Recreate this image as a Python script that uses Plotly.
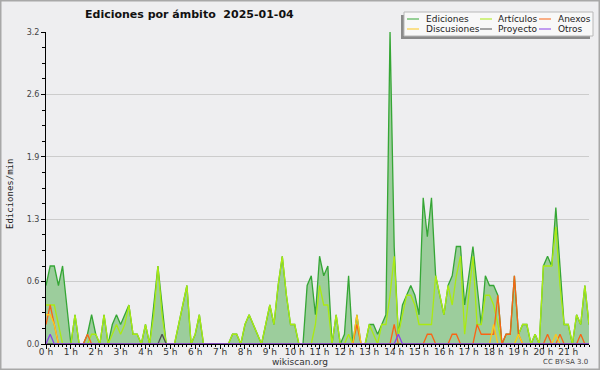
import pandas as pd
import plotly.graph_objects as go

# ---- data (edits per minute, 10-minute buckets, 2025-01-04) ----
START = "2025-01-04 00:00"
hour_labels = [f"{h} h" for h in range(22)]
y_tick_values = [0, 0.64, 1.28, 1.92, 2.56, 3.2]
y_tick_labels = ["0.0", "0.6", "1.3", "1.9", "2.6", "3.2"]

ediciones = [
    0.6, 0.8, 0.8, 0.6, 0.8, 0.4,
    0, 0.3, 0, 0, 0.1, 0.3,
    0.1, 0, 0.3, 0, 0.2, 0.3,
    0.2, 0.3, 0.4, 0.1, 0.1, 0,
    0.2, 0, 0.4, 0.8, 0.4, 0,
    0, 0, 0.2, 0.4, 0.6, 0,
    0.1, 0.3, 0, 0, 0, 0,
    0, 0, 0, 0.1, 0.1, 0,
    0.2, 0.3, 0.2, 0.1, 0, 0.2,
    0.4, 0.2, 0.6, 0.9, 0.5, 0.2,
    0.2, 0, 0, 0.6, 0.7, 0.3,
    0.9, 0.7, 0.8, 0, 0.3, 0,
    0.1, 0.7, 0, 0.3, 0, 0,
    0.2, 0.2, 0.1, 0.2, 0.3, 3.2,
    1.0, 0.1, 0.4, 0.5, 0.6, 0.5,
    0.3, 1.5, 1.1, 1.5, 0.7, 0.5,
    0.3, 0.6, 0.7, 1.0, 1.0, 0.4,
    0.7, 1.0, 0.6, 0.2, 0.7, 0.6,
    0.6, 0.5, 0, 0.1, 0.1, 0.7,
    0.1, 0.2, 0.2, 0, 0.1, 0,
    0.8, 0.9, 0.8, 1.4, 0.8, 0.2,
    0.2, 0, 0.3, 0.2, 0.6, 0.2,
]
articulos = [
    0.4, 0.4, 0.4, 0.2, 0, 0,
    0, 0.3, 0, 0, 0, 0.1,
    0.1, 0, 0.3, 0, 0.1, 0.2,
    0.1, 0.2, 0.4, 0.1, 0.1, 0,
    0.2, 0, 0.3, 0.8, 0.3, 0,
    0, 0, 0.2, 0.4, 0.6, 0,
    0.1, 0.3, 0, 0, 0, 0,
    0, 0, 0, 0.1, 0.1, 0,
    0.2, 0.3, 0.2, 0.1, 0, 0.2,
    0.4, 0.2, 0.6, 0.9, 0.5, 0.2,
    0.2, 0, 0, 0, 0, 0.2,
    0.6, 0.4, 0.4, 0, 0.3, 0,
    0, 0.1, 0, 0, 0, 0,
    0.2, 0.1, 0, 0.2, 0.2, 0.5,
    0.9, 0.1, 0.3, 0.5, 0.5, 0.4,
    0.2, 0.2, 0.2, 0.2, 0.7, 0.5,
    0.3, 0.6, 0.4, 0.7, 0.9, 0.1,
    0.5, 0.9, 0.2, 0.2, 0.5, 0.5,
    0.4, 0.2, 0, 0, 0, 0,
    0.1, 0.2, 0.2, 0, 0.1, 0,
    0.8, 0.8, 0.8, 1.2, 0.6, 0.2,
    0.2, 0, 0.3, 0.2, 0.6, 0.2,
]
anexos = [
    0.2, 0.4, 0.2, 0, 0, 0,
    0, 0, 0, 0, 0.1, 0,
    0, 0, 0, 0, 0, 0,
    0, 0, 0, 0, 0, 0,
    0, 0, 0, 0, 0, 0,
    0, 0, 0, 0, 0, 0,
    0, 0, 0, 0, 0, 0,
    0, 0, 0, 0, 0, 0,
    0, 0, 0, 0, 0, 0,
    0, 0, 0, 0, 0, 0,
    0, 0, 0, 0, 0, 0,
    0, 0, 0, 0, 0, 0,
    0, 0, 0, 0.2, 0, 0,
    0, 0, 0, 0, 0, 0,
    0.2, 0, 0, 0, 0, 0,
    0, 0, 0.1, 0.1, 0, 0,
    0, 0, 0.1, 0.1, 0, 0,
    0, 0, 0.2, 0.1, 0.1, 0.1,
    0.1, 0.5, 0, 0.1, 0.1, 0.7,
    0.1, 0, 0, 0, 0, 0,
    0, 0.1, 0, 0, 0.1, 0,
    0, 0, 0, 0.1, 0, 0,
]
discusiones = [
    0.3, 0.3, 0.2, 0, 0, 0,
    0, 0, 0, 0, 0, 0,
    0, 0, 0, 0, 0, 0,
    0, 0, 0, 0, 0, 0,
    0, 0, 0, 0, 0, 0,
    0, 0, 0, 0, 0, 0,
    0, 0, 0, 0, 0, 0,
    0, 0, 0, 0, 0, 0,
    0, 0, 0, 0, 0, 0,
    0, 0, 0, 0, 0, 0,
    0, 0, 0, 0, 0, 0,
    0, 0, 0, 0, 0, 0,
    0, 0, 0, 0.3, 0, 0,
    0, 0, 0, 0, 0, 0,
    0, 0, 0, 0, 0, 0,
    0, 0, 0, 0, 0, 0,
    0, 0, 0, 0, 0, 0,
    0, 0, 0, 0, 0, 0,
    0.2, 0, 0, 0, 0, 0,
    0.1, 0, 0, 0, 0, 0,
    0, 0, 0, 0.1, 0, 0,
    0, 0, 0, 0, 0, 0,
]
proyecto = [0] * 28 + [0.1] + [0] * 103
otros = [0, 0.1] + [0] * 83 + [0.1] + [0] * 46

times = pd.date_range(START, periods=len(ediciones), freq="10min")
hour_ticks = pd.date_range(START, periods=len(hour_labels), freq="h")

series = [
    ("Ediciones", ediciones, "#35a635"),
    ("Artículos", articulos, "#aaea12"),
    ("Anexos", anexos, "#fa6414"),
    ("Discusiones", discusiones, "#fcc81e"),
    ("Proyecto", proyecto, "#505050"),
    ("Otros", otros, "#8a40e8"),
]

BG = "#eeeef0"
FONT = "DejaVu Sans"
L, R, T, B, W, H = 46, 11, 32, 26, 600, 370
PW, PH = W - L - R, H - T - B


def px(x):
    return (x - L) / PW


def py(y):
    return (H - B - y) / PH


fig = go.Figure()
for i, (name, vals, color) in enumerate(series):
    kw = {}
    if i == 0:
        kw = dict(fill="tozeroy", fillcolor="#9ccd9c")
    fig.add_trace(go.Scatter(x=times, y=vals, name=name, mode="lines",
                             line=dict(color=color, width=1.3), **kw))

shapes = [
    # outer border
    dict(type="rect", xref="paper", yref="paper", x0=px(0.5), x1=px(599.5),
         y0=py(369.5), y1=py(0.5), line=dict(color="#a8a8a8", width=2)),
    # legend shadow and box
    dict(type="rect", xref="paper", yref="paper", x0=px(401), x1=px(590),
         y0=py(39), y1=py(15), fillcolor="#8a8a8a", line=dict(width=0)),
    dict(type="rect", xref="paper", yref="paper", x0=px(404), x1=px(593),
         y0=py(36), y1=py(12), fillcolor="#f8f8f8",
         line=dict(color="#b8b8b8", width=1)),
]
annotations = []
cols = [(407, 424), (480, 496), (539, 556)]
rows = [19, 29]
for k, (name, vals, color) in enumerate(series):
    r, c = divmod(k, 3)
    sx, tx = cols[c]
    yy = rows[r]
    shapes.append(dict(type="line", xref="paper", yref="paper",
                       x0=px(sx), x1=px(sx + 12), y0=py(yy), y1=py(yy),
                       line=dict(color=color, width=1)))
    annotations.append(dict(text=name, xref="paper", yref="paper",
                            x=px(tx), y=py(yy), xanchor="left", yanchor="middle",
                            showarrow=False,
                            font=dict(family=FONT, size=9, color="#222222")))

annotations += [
    dict(text="Ediciones/min", xref="paper", yref="paper", x=px(10), y=py(194),
         textangle=-90, showarrow=False, xanchor="center", yanchor="middle",
         font=dict(family="DejaVu Sans Mono", size=9, color="#222222")),
    dict(text="wikiscan.org", xref="paper", yref="paper", x=px(300), y=py(362),
         showarrow=False, xanchor="center", yanchor="middle",
         font=dict(family=FONT, size=9, color="#333333")),
    dict(text="CC BY-SA 3.0", xref="paper", yref="paper", x=px(590), y=py(362),
         showarrow=False, xanchor="right", yanchor="middle",
         font=dict(family=FONT, size=7, color="#444444")),
]

fig.update_layout(
    width=W, height=H,
    margin=dict(l=L, r=R, t=T, b=B, pad=0, autoexpand=False),
    paper_bgcolor=BG, plot_bgcolor=BG,
    showlegend=False,
    title=dict(text="Ediciones por ámbito  2025-01-04", x=85 / W,
               xanchor="left", y=1 - 14 / H, yanchor="middle",
               font=dict(family=FONT, size=11, color="#111111", weight="bold")),
    shapes=shapes, annotations=annotations,
)
fig.update_xaxes(
    range=[times[0], times[-1]], automargin=False,
    tickvals=hour_ticks, ticktext=hour_labels,
    ticks="outside", ticklen=4, tickcolor="black", tickwidth=1,
    ticklabelstandoff=-5,
    showline=True, linecolor="black", linewidth=1,
    showgrid=False, zeroline=False,
    tickfont=dict(family=FONT, size=9, color="#333333"),
    minor=dict(dtick=600000, ticks="outside", ticklen=2, tickcolor="black", showgrid=False),
)
fig.update_yaxes(
    range=[0, 3.2], automargin=False,
    tickvals=y_tick_values, ticktext=y_tick_labels,
    ticks="outside", ticklen=4, tickcolor="black", tickwidth=1,
    showline=True, linecolor="black", linewidth=1,
    showgrid=True, gridcolor="#cccccc", gridwidth=1, zeroline=False,
    tickfont=dict(family=FONT, size=8, color="#444444"),
    minor=dict(tick0=0, dtick=0.16, ticks="outside", ticklen=3, tickcolor="black", showgrid=False),
)

fig.write_html("out.html", config={"displayModeBar": False},
               post_script="document.body.style.margin='0';document.body.style.overflow='hidden';")
